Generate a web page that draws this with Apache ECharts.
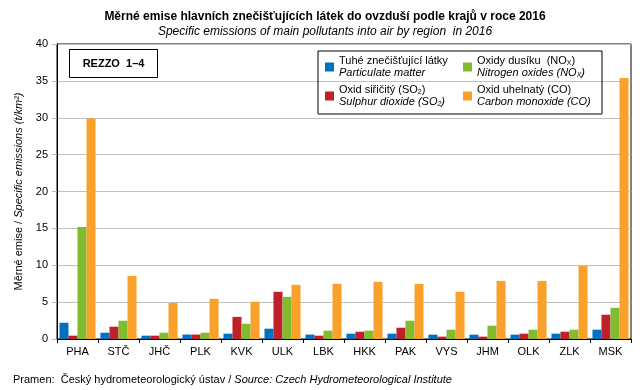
<!DOCTYPE html>
<html><head><meta charset="utf-8">
<script src="https://cdn.jsdelivr.net/npm/echarts@6/dist/echarts.min.js"></script>
<style>html,body{margin:0;padding:0;background:#fff}#c{width:643px;height:390px}</style>
</head><body><div id="c"></div>
<script>
const categories = ['PHA','STČ','JHČ','PLK','KVK','ULK','LBK','HKK','PAK','VYS','JHM','OLK','ZLK','MSK'];
const particulate = [2.2,0.85,0.45,0.6,0.72,1.4,0.6,0.72,0.72,0.59,0.59,0.59,0.72,1.26];
const sulphur     = [0.45,1.67,0.45,0.6,3.0,6.4,0.45,0.99,1.53,0.32,0.32,0.72,0.99,3.29];
const nitrogen    = [15.2,2.48,0.85,0.85,2.07,5.72,1.13,1.13,2.48,1.26,1.8,1.26,1.26,4.23];
const carbon      = [29.9,8.56,4.9,5.45,5.05,7.34,7.48,7.75,7.48,6.4,7.88,7.88,9.9,35.4];
const yTicks = [0,5,10,15,20,25,30,35,40];

const names = ['pm','so2','nox','co'];
const colors = ['#0070C0','#C0202A','#80BB30','#F9A12A'];
const legendText = {
  pm: '{n|Tuhé znečišťující látky}\n{i|Particulate matter}',
  so2: '{n|Oxid siřičitý (SO}{ns|2}{n|)}\n{i|Sulphur dioxide (SO}{is|2}{i|)}',
  nox: '{n|Oxidy dusíku  (NO}{ns|X}{n|)}\n{i|Nitrogen oxides (NO}{is|X}{i|)}',
  co: '{n|Oxid uhelnatý (CO)}\n{i|Carbon monoxide (CO)}'
};
const F = 'Liberation Sans, Arial, sans-serif';
const chart = echarts.init(document.getElementById('c'), null, {renderer:'canvas'});
const dataSets = [particulate, sulphur, nitrogen, carbon];
chart.setOption({
  animation:false,
  textStyle:{fontFamily:F},
  title:[{
    text:'Měrné emise hlavních znečišťujících látek do ovzduší podle krajů v roce 2016',
    left:320, textAlign:'center', top:6,
    textStyle:{fontFamily:F,fontSize:12,fontWeight:'bold',color:'#000'}
  },{
    text:'Specific emissions of main pollutants into air by region  in 2016',
    left:320, textAlign:'center', top:21,
    textStyle:{fontFamily:F,fontSize:12,fontStyle:'italic',fontWeight:'normal',color:'#000'}
  },{
    text:'{n|Pramen:  Český hydrometeorologický ústav / }{i|Source: Czech Hydrometeorological Institute}',
    left:8, top:369,
    textStyle:{fontFamily:F,fontSize:11,fontWeight:'normal',color:'#000',rich:{
      n:{fontFamily:F,fontSize:11,fontWeight:'normal',color:'#000'},
      i:{fontFamily:F,fontSize:11,fontWeight:'normal',color:'#000',fontStyle:'italic'}}}
  }],
  legend:{
    data: ['pm','nox','so2','co'],
    left:318, top:51, width:276,
    orient:'horizontal',
    padding:[4,6,6,7],
    itemGap:5, itemWidth:9, itemHeight:9,
    borderColor:'#000', borderWidth:1,
    icon:'rect',
    formatter: n => legendText[n],
    textStyle:{fontFamily:F,fontSize:11,color:'#000',width:119,lineHeight:12,
      rich:{
        n:{fontFamily:F,fontSize:11,color:'#000',lineHeight:12},
        i:{fontFamily:F,fontSize:11,color:'#000',fontStyle:'italic',lineHeight:12},
        ns:{fontFamily:F,fontSize:7,color:'#000',verticalAlign:'bottom',lineHeight:12,padding:[4,0,0,0]},
        is:{fontFamily:F,fontSize:7,color:'#000',fontStyle:'italic',verticalAlign:'bottom',lineHeight:12,padding:[4,0,0,0]}
      }}
  },
  grid:{left:57, right:12, top:44, bottom:51, show:true, borderColor:'#000', borderWidth:1, containLabel:false},
  xAxis:{
    type:'category', data:categories,
    axisLine:{lineStyle:{color:'#000',width:1}},
    axisTick:{show:true, alignWithLabel:false, length:4, lineStyle:{color:'#000'}},
    axisLabel:{fontFamily:F,fontSize:11,color:'#000',margin:7}
  },
  yAxis:{
    type:'value', min:0, max:40, interval:5,
    name:'{n|Měrné emise / }{i|Specific emissions (t/km²)}',
    nameLocation:'middle', nameGap:29, nameRotate:90,
    nameTextStyle:{fontFamily:F,fontSize:11,color:'#000',rich:{
      n:{fontFamily:F,fontSize:11,color:'#000'},
      i:{fontFamily:F,fontSize:11,color:'#000',fontStyle:'italic'}}},
    axisLine:{show:true,lineStyle:{color:'#000',width:1}},
    axisTick:{show:true,length:5,lineStyle:{color:'#bbb'}},
    splitLine:{lineStyle:{color:'#C0C0C0',width:1}},
    axisLabel:{fontFamily:F,fontSize:11,color:'#000',margin:9,
      formatter: v => yTicks.includes(v) ? String(v) : ''}
  },
  graphic:[{
    type:'group', left:69, top:49,
    children:[
      {type:'rect', shape:{x:0,y:0,width:88,height:28}, style:{fill:'#fff',stroke:'#000',lineWidth:1}},
      {type:'text', x:44, y:14, style:{text:'REZZO  1–4', fontFamily:F, fontSize:11, fontWeight:'bold', fill:'#000', align:'center', verticalAlign:'middle'}}
    ]
  }],
  series: names.map((n,i)=>({
    name:n, type:'bar', data:dataSets[i],
    itemStyle:{color:colors[i]},
    barGap:'0%', barCategoryGap:'12%'
  }))
});
</script></body></html>
